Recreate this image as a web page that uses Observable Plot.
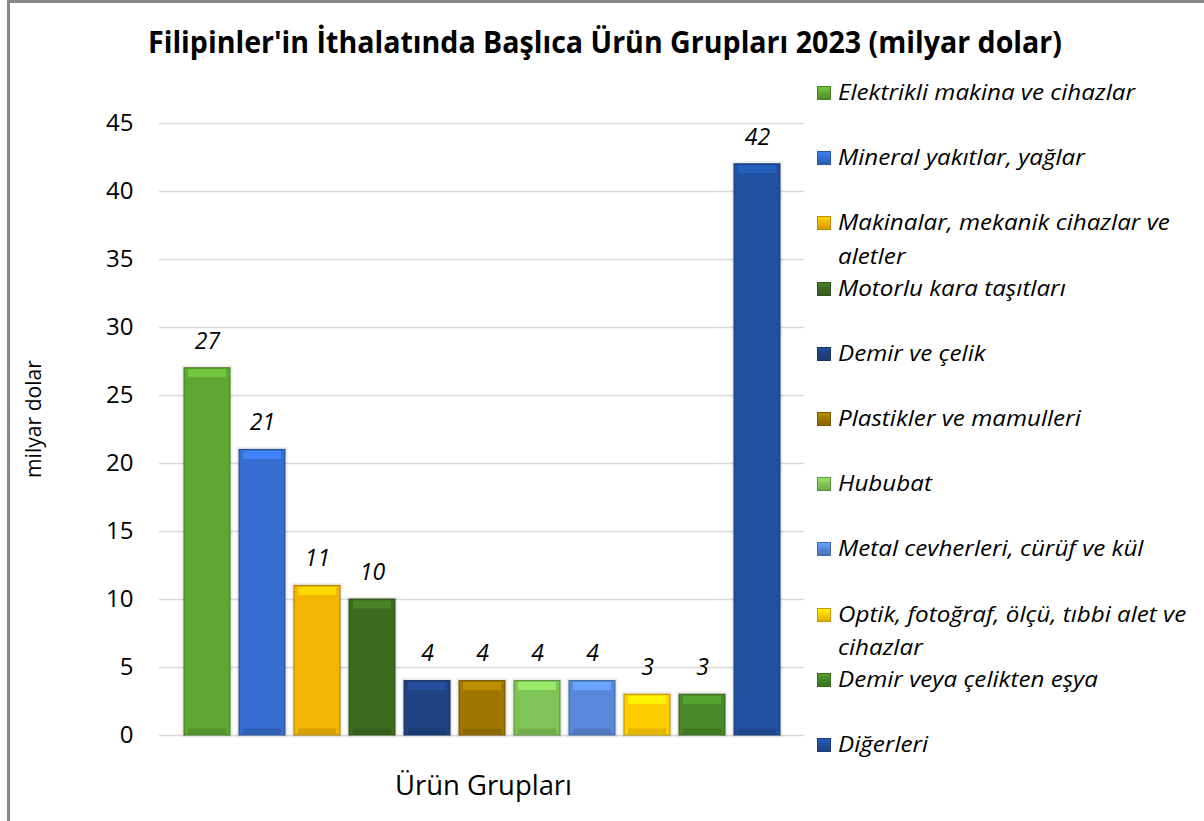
<!DOCTYPE html>
<html><head><meta charset="utf-8">
<script src="https://cdn.jsdelivr.net/npm/d3@7"></script>
<script src="https://cdn.jsdelivr.net/npm/@observablehq/plot@0.6"></script>
<style>
html,body{margin:0;padding:0;background:#fff;}
#wrap{position:relative;width:1204px;height:821px;overflow:hidden;font-family:"Open Sans",sans-serif;background:#fff;}
.ov{position:absolute;white-space:nowrap;line-height:1;transform-origin:0 0;color:#000;}
#frame{position:absolute;left:7px;top:0;width:1400px;height:1000px;border-left:3px solid #878787;border-top:3px solid #878787;box-sizing:border-box;pointer-events:none;}
.sw{position:absolute;width:14px;height:14px;box-sizing:border-box;}
svg{position:absolute;left:0;top:0;}
</style></head><body><div id="wrap"></div>
<script>
const title = "Filipinler'in İthalatında Başlıca Ürün Grupları 2023 (milyar dolar)";
const yLabel = "milyar dolar";
const xLabel = "Ürün Grupları";
const categories = [
  "Elektrikli makina ve cihazlar",
  "Mineral yakıtlar, yağlar",
  "Makinalar, mekanik cihazlar ve aletler",
  "Motorlu kara taşıtları",
  "Demir ve çelik",
  "Plastikler ve mamulleri",
  "Hububat",
  "Metal cevherleri, cürüf ve kül",
  "Optik, fotoğraf, ölçü, tıbbi alet ve cihazlar",
  "Demir veya çelikten eşya",
  "Diğerleri"
];
const values = [27, 21, 11, 10, 4, 4, 4, 4, 3, 3, 42];
const yTicks = [0, 5, 10, 15, 20, 25, 30, 35, 40, 45];
const palette = ["#5fa733", "#356dd0", "#f3b500", "#3d6c20", "#1f4383", "#a07600", "#80c457", "#5889da", "#ffcd00", "#488827", "#20509f"];

const rows = categories.map((c, i) => ({
  cat: c, val: values[i],
  fill: palette[i],
  edge: d3.color(palette[i]).darker(1).formatHex(),
  hi: d3.color(palette[i]).brighter(0.5).formatHex(),
  lo: d3.color(palette[i]).darker(0.35).formatHex()
}));

const wrap = document.getElementById("wrap");

const chart = Plot.plot({
  width: 1204, height: 821,
  marginLeft: 159, marginRight: 400, marginTop: 123, marginBottom: 86,
  style: {fontFamily: '"Open Sans", sans-serif', background: "transparent", color: "#000", overflow: "visible"},
  x: {domain: categories, paddingInner: 0.17, paddingOuter: 0.385, axis: null},
  y: {domain: [0, 45], axis: null},
  marks: [
    Plot.gridY(yTicks, {stroke: "#d9d9d9", strokeOpacity: 1, strokeWidth: 1.6}),
    Plot.axisY(yTicks, {tickSize: 0, tickPadding: 26, fontSize: 24, fill: "#000", label: null}),
    Plot.barY(rows, {x: "cat", y: "val", fill: "#000", fillOpacity: 0.07, stroke: "#000", strokeOpacity: 0.07, strokeWidth: 5}),
    Plot.barY(rows, {x: "cat", y: "val", fill: "fill", stroke: "edge", strokeWidth: 1}),
    Plot.tickY(rows, {x: "cat", y: "val", dy: 5, stroke: "hi", strokeWidth: 8, inset: 4}),
    Plot.tickY(rows, {x: "cat", y: 0, dy: -4, stroke: "lo", strokeWidth: 6, inset: 4}),
    Plot.text(rows, {x: "cat", y: "val", text: d => String(d.val), dy: -27, fontSize: 23, fontStyle: "italic", fill: "#000"})
  ]
});
wrap.appendChild(chart);
const frame = document.createElement("div");
frame.id = "frame";
wrap.appendChild(frame);

function addText(txt, left, baseline, size, opts = {}) {
  const el = document.createElement("div");
  el.className = "ov";
  el.textContent = txt;
  el.style.left = left + "px";
  el.style.top = (baseline - 0.888 * size) + "px";
  el.style.fontSize = size + "px";
  if (opts.bold) el.style.fontWeight = "700";
  if (opts.italic) el.style.fontStyle = "italic";
  wrap.appendChild(el);
  return el;
}
function fit(el, target) {
  const w = el.getBoundingClientRect().width;
  const k = target / w;
  el.style.transform = `scaleX(${k})`;
  return k;
}

// title
fit(addText(title, 148, 54, 31, {bold: true}), 914);
// x label
fit(addText(xLabel, 395, 795, 28), 177);
// y label (rotated)
{
  const el = addText(yLabel, 0, 0, 21);
  const w = el.getBoundingClientRect().width;
  const k = 118 / w;
  el.style.left = "23px";
  el.style.top = "478px";
  el.style.transform = `rotate(-90deg) scaleX(${k})`;
}

// legend
function wrapLabel(s) {
  if (s.length <= 32) return [s];
  let cut = -1;
  for (let j = 0; j < s.length; j++) if (s[j] === " " && j <= 36) cut = j;
  return [s.slice(0, cut), s.slice(cut + 1)];
}
let legendK = null;
categories.forEach((c, i) => {
  const cy = 93 + i * 65.2;
  const sw = document.createElement("div");
  sw.className = "sw";
  sw.style.left = "817px";
  sw.style.top = (cy - 7) + "px";
  const base = palette[i];
  sw.style.background = `linear-gradient(to bottom, ${d3.color(base).brighter(0.5).formatHex()} 0%, ${base} 45%, ${d3.color(base).darker(0.4).formatHex()} 100%)`;
  sw.style.border = `1px solid ${d3.color(base).darker(0.8).formatHex()}`;
  wrap.appendChild(sw);
  const lines = wrapLabel(c);
  lines.forEach((ln, j) => {
    const el = addText(ln, 838, cy + 8 + j * 33.5, 22.5, {italic: true});
    if (legendK === null) legendK = fit(el, 297);
    else el.style.transform = `scaleX(${legendK})`;
  });
});
</script>
</body></html>
